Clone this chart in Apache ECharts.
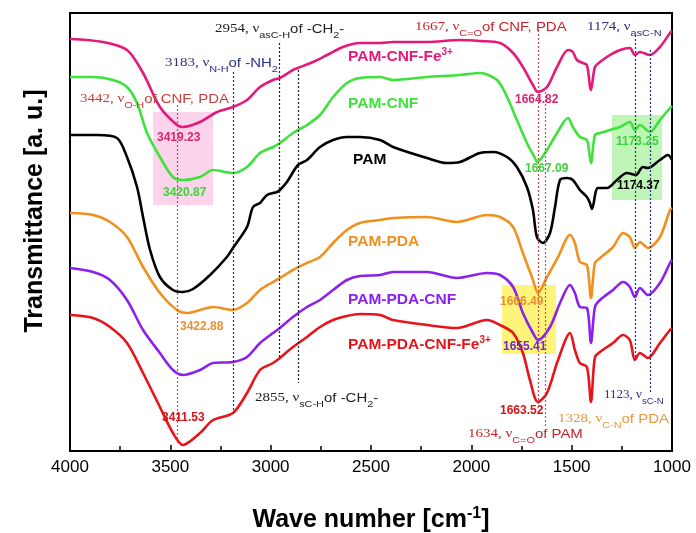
<!DOCTYPE html>
<html>
<head>
<meta charset="utf-8">
<script src="https://cdn.jsdelivr.net/npm/echarts@6/dist/echarts.min.js"></script>
<style>
html, body { margin: 0; padding: 0; background: #fff; }
#main { width: 696px; height: 533px; }
</style>
</head>
<body>
<div id="main"></div>
<script>
// spectra: [wave number (cm-1), transmittance (a.u., offset for stacking)]
var pamCnfFe = [[4000,412],[3836,409],[3716,401],[3636,378],[3552,344],[3467,326],[3437,324],[3352,329],[3267,339],[3188,344],[3118,351],[3053,364],[2988,371],[2954,373],[2889,381],[2864,383],[2789,389],[2719,396],[2640,404],[2555,408],[2455,408],[2390,409],[2221,409],[2057,411],[1957,410],[1857,408],[1792,398],[1743,384],[1693,366],[1668,359],[1623,364],[1573,384],[1518,401],[1494,399],[1474,391],[1444,388],[1424,386],[1404,361],[1384,384],[1359,389],[1309,396],[1259,401],[1210,403],[1185,396],[1160,399],[1110,396],[1060,404],[1010,418],[1000,420]];
var pamCnf = [[4000,374],[3885,374],[3786,371],[3716,364],[3666,348],[3616,318],[3552,294],[3487,274],[3437,271],[3352,274],[3287,281],[3188,278],[3118,284],[3053,298],[2988,304],[2954,308],[2889,318],[2819,326],[2754,336],[2689,354],[2620,368],[2555,373],[2455,374],[2390,371],[2221,374],[2057,376],[1957,378],[1872,371],[1822,354],[1773,331],[1723,308],[1683,293],[1673,289],[1623,301],[1573,318],[1518,333],[1494,324],[1459,314],[1424,311],[1404,288],[1384,316],[1359,318],[1309,321],[1259,324],[1210,329],[1185,321],[1160,326],[1110,319],[1060,331],[1010,343],[1000,345]];
var pam = [[4000,316],[3865,316],[3766,313],[3716,294],[3666,264],[3636,234],[3601,201],[3552,174],[3487,161],[3437,159],[3387,162],[3302,176],[3218,194],[3188,203],[3118,224],[3088,244],[3053,248],[3018,256],[2968,259],[2954,261],[2919,269],[2864,286],[2819,291],[2754,304],[2689,311],[2620,314],[2555,314],[2455,311],[2390,304],[2221,293],[2121,288],[2057,289],[1957,298],[1892,299],[1822,294],[1773,284],[1723,264],[1693,241],[1673,214],[1643,208],[1608,218],[1583,244],[1558,271],[1523,273],[1494,271],[1459,261],[1424,254],[1409,248],[1399,242],[1369,263],[1324,263],[1274,271],[1225,278],[1180,276],[1145,284],[1120,283],[1060,291],[1020,296],[1000,291]];
var pamPda = [[4000,238],[3885,236],[3801,229],[3716,214],[3636,184],[3552,158],[3467,141],[3417,138],[3352,141],[3287,144],[3188,141],[3118,148],[3053,161],[2988,169],[2954,173],[2889,181],[2819,188],[2754,194],[2689,208],[2620,221],[2555,228],[2455,231],[2390,233],[2221,234],[2072,229],[1922,236],[1857,234],[1792,224],[1743,198],[1693,171],[1668,158],[1623,174],[1568,194],[1508,216],[1484,208],[1459,189],[1424,186],[1404,153],[1384,188],[1359,193],[1294,204],[1244,218],[1210,214],[1185,203],[1160,209],[1120,203],[1060,214],[1010,241],[1000,243]];
var pamPdaCnf = [[4000,183],[3885,179],[3801,171],[3716,151],[3636,121],[3552,98],[3487,81],[3437,76],[3352,81],[3287,88],[3188,89],[3118,94],[3053,108],[2988,118],[2954,123],[2889,134],[2819,144],[2754,151],[2689,161],[2620,171],[2555,175],[2455,176],[2390,179],[2221,179],[2072,173],[1922,178],[1857,176],[1792,164],[1743,138],[1693,118],[1668,111],[1608,124],[1558,148],[1508,166],[1484,158],[1459,144],[1424,143],[1404,108],[1384,144],[1359,151],[1294,161],[1244,169],[1210,164],[1185,154],[1160,163],[1120,156],[1060,168],[1010,188],[1000,191]];
var pamPdaCnfFe = [[4000,136],[3885,133],[3801,124],[3716,108],[3636,78],[3552,44],[3487,18],[3437,6],[3352,18],[3287,31],[3188,38],[3118,58],[3053,81],[2988,88],[2954,93],[2889,104],[2819,114],[2754,124],[2689,131],[2620,135],[2555,137],[2455,136],[2390,131],[2221,126],[2072,123],[1922,131],[1857,126],[1792,118],[1743,98],[1708,71],[1668,49],[1623,58],[1568,91],[1508,118],[1484,101],[1459,88],[1424,84],[1404,49],[1384,94],[1359,99],[1294,108],[1244,116],[1210,111],[1185,91],[1160,98],[1120,93],[1060,108],[1010,121],[1000,123]];

var seriesNames = ['PAM-CNF-Fe3+', 'PAM-CNF', 'PAM', 'PAM-PDA', 'PAM-PDA-CNF', 'PAM-PDA-CNF-Fe3+'];

// dotted guide lines: wave number, top and bottom value
var guideWn = [3465, 3185, 2955, 2862, 1668, 1630, 1183, 1110];
var guideTop = [346, 379, 408, 381, 421, 363, 416, 401];
var guideBottom = [6, 38, 94, 68, 46, 24, 91, 58];

// highlighted peak regions: [wn from, wn to, value from, value to]
var peakBoxes = [[3586, 3287, 246, 339], [1299, 1050, 251, 336], [1847, 1578, 97, 166]];

var SANS = '"Liberation Sans", Arial, sans-serif';
var SERIF = '"Liberation Serif", "Times New Roman", serif';

var colors = ['#e4197c', '#3de23a', '#000000', '#f0901e', '#8a22ec', '#e8141b'];
var guideColors = ['#c0504d', '#2b2d8a', '#222222', '#222222', '#c0504d', '#c0504d', '#2b2d8a', '#2b2d8a'];
var boxColors = ['rgba(249,196,228,0.75)', 'rgba(170,243,160,0.75)', 'rgba(255,242,100,0.85)'];

var chart = echarts.init(document.getElementById('main'));

var spectra = [pamCnfFe, pamCnf, pam, pamPda, pamPdaCnf, pamPdaCnfFe];
var series = [];

var guides = [];
for (var i = 0; i < guideWn.length; i++) {
    guides.push([
        { coord: [guideWn[i], guideTop[i]], lineStyle: { color: guideColors[i] } },
        { coord: [guideWn[i], guideBottom[i]] }
    ]);
}
var boxes = [];
for (var i = 0; i < peakBoxes.length; i++) {
    boxes.push([
        { coord: [peakBoxes[i][0], peakBoxes[i][2]], itemStyle: { color: boxColors[i] } },
        { coord: [peakBoxes[i][1], peakBoxes[i][3]] }
    ]);
}
series.push({
    type: 'line',
    data: [],
    z: 1,
    silent: true,
    markArea: { silent: true, data: boxes },
    markLine: {
        silent: true,
        symbol: 'none',
        label: { show: false },
        lineStyle: { type: [2, 2], width: 1.2 },
        data: guides
    }
});
for (var i = 0; i < spectra.length; i++) {
    series.push({
        name: seriesNames[i],
        type: 'line',
        data: spectra[i],
        smooth: 0.3,
        showSymbol: false,
        z: 3,
        lineStyle: { color: colors[i], width: 2.6 },
        itemStyle: { color: colors[i] }
    });
}

function noteRich(color) {
    return {
        n: { fontFamily: SERIF, fontSize: 13, fill: color },
        t: { fontFamily: SANS, fontSize: 13, fill: color },
        s: { fontFamily: SANS, fontSize: 9.5, fill: color, padding: [13, 0, 0, 0] }
    };
}
// notes are slightly wider than tall in the figure
function note(x, y, color, text, sx) {
    return { type: 'text', x: x, y: y, z: 10, silent: true, scaleX: sx || 1.15,
        style: { text: text, rich: noteRich(color), verticalAlign: 'middle', align: 'left' } };
}
function nameRich(color) {
    return {
        b: { fontFamily: SANS, fontSize: 15.5, fontWeight: 'bold', fill: color },
        p: { fontFamily: SANS, fontSize: 10, fontWeight: 'bold', fill: color, padding: [0, 0, 9, 0] }
    };
}
function nameLabel(x, y, color, text) {
    return { type: 'text', x: x, y: y, z: 10, silent: true,
        style: { text: text, rich: nameRich(color), verticalAlign: 'middle', align: 'left' } };
}
function peak(x, y, color, text) {
    return { type: 'text', x: x, y: y, z: 10, silent: true,
        style: { text: text, font: 'bold 12px ' + SANS, fill: color, verticalAlign: 'middle', align: 'left' } };
}

var graphics = [
    note(215, 29, '#222222', '{n|2954, ν}{s|asC-H}{t|of -CH}{s|2}{t|-}'),
    note(165, 63, '#2b2d8a', '{n|3183, ν}{s|N-H}{t|of -NH}{s|2}'),
    note(80, 99, '#c8403a', '{n|3442, ν}{s|O-H}{t|of CNF, PDA}'),
    note(415, 27, '#c8232a', '{n|1667, ν}{s|C=O}{t|of CNF, PDA}'),
    note(587, 27, '#2b2d8a', '{n|1174, ν}{s|asC-N}'),
    note(255, 398, '#222222', '{n|2855, ν}{s|sC-H}{t|of -CH}{s|2}{t|-}'),
    note(468, 434, '#c8232a', '{n|1634, ν}{s|C=O}{t|of PAM}'),
    note(558, 419, '#e8973a', '{n|1328, ν}{s|C-N}{t|of PDA}'),
    note(604, 395, '#2b2d8a', '{n|1123, ν}{s|sC-N}', 1.0),

    nameLabel(348, 57, colors[0], '{b|PAM-CNF-Fe}{p|3+}'),
    nameLabel(348, 104, colors[1], '{b|PAM-CNF}'),
    nameLabel(353, 160, colors[2], '{b|PAM}'),
    nameLabel(348, 242, colors[3], '{b|PAM-PDA}'),
    nameLabel(348, 300, colors[4], '{b|PAM-PDA-CNF}'),
    nameLabel(348, 345, colors[5], '{b|PAM-PDA-CNF-Fe}{p|3+}'),

    peak(157, 138, '#d6246e', '3419.23'),
    peak(163, 193, '#3ad53a', '3420.87'),
    peak(180, 327, '#e89030', '3422.88'),
    peak(162, 418, '#d4141c', '3411.53'),
    peak(515, 100, '#d6246e', '1664.82'),
    peak(525, 169, '#3ad53a', '1667.09'),
    peak(616, 142, '#3ad53a', '1173.25'),
    peak(617, 186, '#000000', '1174.37'),
    peak(500, 302, '#e89030', '1666.49'),
    peak(503, 347, '#6a2ad0', '1655.41'),
    peak(500, 411, '#d4141c', '1663.52')
];

var option = {
    animation: false,
    backgroundColor: '#ffffff',
    grid: {
        left: 70, right: 24, top: 13, bottom: 82,
        containLabel: false,
        outerBoundsMode: 'none',
        show: true, borderColor: '#000', borderWidth: 2, backgroundColor: 'transparent'
    },
    xAxis: {
        type: 'value',
        inverse: true,
        min: 1000,
        max: 4000,
        interval: 500,
        name: '{b|Wave numher [cm}{s|-1}{b|]}',
        nameLocation: 'middle',
        nameGap: 55,
        nameTextStyle: {
            rich: {
                b: { fontFamily: SANS, fontSize: 25, fontWeight: 'bold', color: '#000' },
                s: { fontFamily: SANS, fontSize: 16, fontWeight: 'bold', color: '#000', padding: [0, 0, 13, 0] }
            }
        },
        axisLine: { show: true, onZero: false, lineStyle: { color: '#000', width: 2 } },
        axisTick: { show: true, inside: true, length: 6, lineStyle: { color: '#000', width: 1.5 } },
        minorTick: { show: true, splitNumber: 2, length: 5, lineStyle: { color: '#000', width: 1.5 } },
        axisLabel: {
            color: '#000', fontFamily: SANS, fontSize: 17, margin: 8,
            formatter: function (val) { return String(val); }
        },
        splitLine: { show: false }
    },
    yAxis: {
        type: 'value',
        min: 0,
        max: 438,
        name: 'Transmittance [a. u.]',
        nameLocation: 'middle',
        nameRotate: 90,
        nameGap: 22,
        nameTextStyle: { fontFamily: SANS, fontSize: 25, fontWeight: 'bold', color: '#000', padding: [0, 0, 0, 42] },
        axisLine: { show: true, lineStyle: { color: '#000', width: 2 } },
        axisTick: { show: false },
        axisLabel: { show: false },
        splitLine: { show: false }
    },
    series: series,
    graphic: graphics
};

chart.setOption(option);
</script>
</body>
</html>
